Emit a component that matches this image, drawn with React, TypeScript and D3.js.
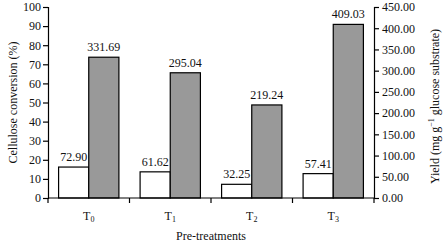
import { useEffect, useRef } from 'react';
import * as d3 from 'd3';

const categories = ['0', '1', '2', '3'];
const conversion = [72.9, 61.62, 32.25, 57.41];
const yieldValues = [331.69, 295.04, 219.24, 409.03];
const leftTicks = [0, 10, 20, 30, 40, 50, 60, 70, 80, 90, 100];
const rightTicks = [0, 50, 100, 150, 200, 250, 300, 350, 400, 450];

const W = 448;
const H = 245;
const FONT = '"Liberation Serif", "DejaVu Serif", serif';

export default function App() {
  const svgRef = useRef<SVGSVGElement>(null);

  useEffect(() => {
    if (!svgRef.current) return;
    const svg = d3.select(svgRef.current);
    svg.selectAll('*').remove();

    const margin = { left: 48, right: 74, top: 7, bottom: 47 };
    const x0 = margin.left;
    const x1 = W - margin.right;
    const yTop = margin.top;
    const yBot = H - margin.bottom;

    const x = d3.scaleBand().domain(categories).range([x0, x1]).paddingInner(0).paddingOuter(0);
    const yLeft = d3.scaleLinear().domain([0, 100]).range([yBot, yTop]);
    const yRight = d3.scaleLinear().domain([0, 450]).range([yBot, yTop]);

    const bw = x.bandwidth();
    const barW = bw * 0.37;
    const off = (bw - 2 * barW) / 2;

    const g = svg.append('g').attr('font-family', FONT).attr('font-size', 12).attr('fill', '#111');

    // bars
    const series = [
      { vals: conversion, fill: '#ffffff', dx: 0 },
      { vals: yieldValues, fill: '#999999', dx: 1 },
    ];
    series.forEach((s) => {
      categories.forEach((c, i) => {
        const bx = (x(c) as number) + off + s.dx * barW;
        const by = yRight(s.vals[i]);
        g.append('rect')
          .attr('x', bx)
          .attr('y', by)
          .attr('width', barW)
          .attr('height', yBot - by)
          .attr('fill', s.fill)
          .attr('stroke', '#000')
          .attr('stroke-width', 1.2);
        g.append('text')
          .attr('x', bx + barW / 2)
          .attr('y', by - 6)
          .attr('text-anchor', 'middle')
          .text(s.vals[i].toFixed(2));
      });
    });

    // left axis
    const la = g.append('g').attr('transform', `translate(${x0},0)`);
    la.call(d3.axisLeft(yLeft).tickValues(leftTicks).tickSize(5).tickPadding(2));
    // right axis
    const ra = g.append('g').attr('transform', `translate(${x1},0)`);
    ra.call(d3.axisRight(yRight).tickValues(rightTicks).tickSize(5).tickPadding(3).tickFormat((d) => (d as number).toFixed(2)));
    [la, ra].forEach((a) => {
      a.attr('font-family', FONT).attr('font-size', 12);
      a.select('.domain').attr('stroke', '#000').attr('stroke-width', 1.2);
      a.selectAll('.tick line').attr('stroke', '#000').attr('stroke-width', 1.2);
      a.selectAll('.tick text').attr('fill', '#111');
    });

    // bottom axis line with ticks at band edges
    const ba = g.append('g');
    ba.append('line').attr('x1', x0).attr('x2', x1).attr('y1', yBot).attr('y2', yBot).attr('stroke', '#000').attr('stroke-width', 1.2);
    const edges = categories.map((c) => x(c) as number).concat([x1]);
    edges.forEach((ex) => {
      ba.append('line').attr('x1', ex).attr('x2', ex).attr('y1', yBot).attr('y2', yBot + 5).attr('stroke', '#000').attr('stroke-width', 1.2);
    });
    categories.forEach((c) => {
      const t = ba.append('text')
        .attr('x', (x(c) as number) + bw / 2)
        .attr('y', yBot + 22)
        .attr('text-anchor', 'middle');
      t.append('tspan').text('T');
      t.append('tspan').attr('font-size', 8).attr('dy', 2).text(c);
    });

    g.append('text')
      .attr('x', (x0 + x1) / 2)
      .attr('y', H - 5)
      .attr('text-anchor', 'middle')
      .text('Pre-treatments');

    const midY = (yTop + yBot) / 2;
    g.append('text')
      .attr('transform', `translate(13,${midY}) rotate(-90)`)
      .attr('text-anchor', 'middle')
      .attr('dy', '0.35em')
      .text('Cellulose conversion (%)');

    const rl = g.append('text')
      .attr('transform', `translate(435,${midY + 4}) rotate(-90)`)
      .attr('text-anchor', 'middle')
      .attr('dy', '0.35em');
    rl.append('tspan').text('Yield (mg g');
    rl.append('tspan').attr('font-size', 8).attr('dy', -5).text('−1');
    rl.append('tspan').attr('dy', 5).text(' glucose substrate)');
  }, []);

  return <svg ref={svgRef} width={W} height={H} style={{ position: 'absolute', left: 0, top: 0, background: '#fff' }} />;
}
